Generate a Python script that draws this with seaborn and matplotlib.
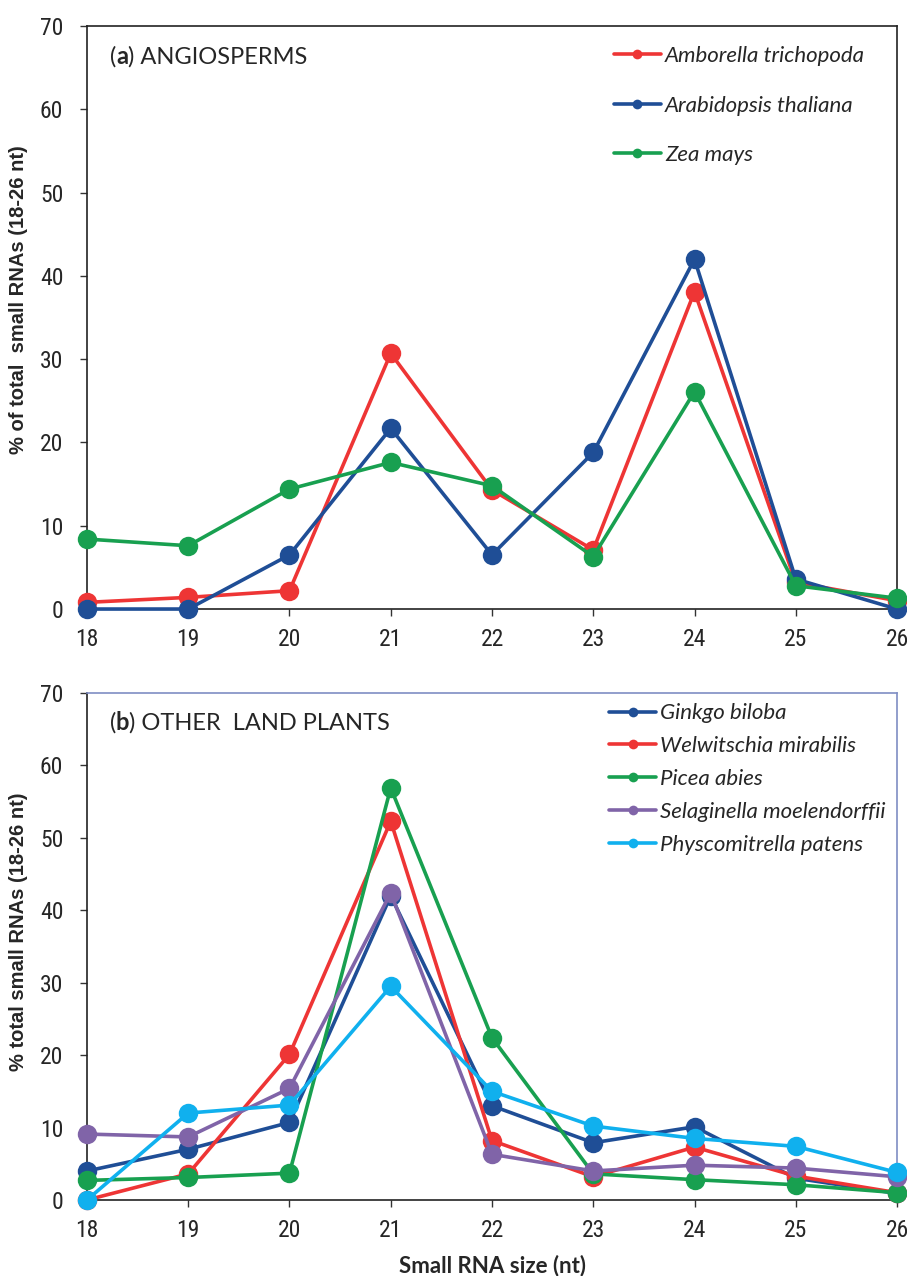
"""
Small RNA size distributions: angiosperms vs other land plants (two panels).
"""
import numpy as np
import pandas as pd
import matplotlib
matplotlib.use('Agg')
import matplotlib.pyplot as plt
from matplotlib import font_manager
import seaborn as sns

sns.set_style('white')
plt.rcParams['font.family'] = ['Lato', 'DejaVu Sans']

# narrow face for the tick numbers if it exists (closer to the original look)
NARROW_OK = False
for cand in ['Liberation Sans Narrow', 'DejaVu Sans Condensed', 'Roboto Condensed']:
    try:
        path = font_manager.findfont(cand, fallback_to_default=False)
        NARROW_OK = True
        TICK_FAMILY = font_manager.FontProperties(fname=path).get_name()
        break
    except Exception:
        continue
if NARROW_OK:
    TICK_SIZE, AX_RIGHT = 17, 0.989
else:
    TICK_FAMILY, TICK_SIZE, AX_RIGHT = 'Lato', 15.5, 0.984

# ── data ─────────────────────────────────────────────────────────────────────
SIZES = [18, 19, 20, 21, 22, 23, 24, 25, 26]
Y_TICKS = [0, 10, 20, 30, 40, 50, 60, 70]

ANGIO_SPECIES = ["Amborella trichopoda", "Arabidopsis thaliana", "Zea mays"]
amborella   = [0.8, 1.4, 2.2, 30.7, 14.3, 7.1, 38.1, 3.2, 1.0]
arabidopsis = [0.0, 0.0, 6.5, 21.7, 6.5, 18.8, 42.0, 3.6, 0.0]
zea         = [8.4, 7.6, 14.4, 17.6, 14.8, 6.3, 26.1, 2.8, 1.3]
ANGIO_COLORS = ['#EE3535', '#1F4E96', '#18A050']

OTHER_SPECIES = ["Ginkgo biloba", "Welwitschia mirabilis", "Picea abies",
                 "Selaginella moelendorffii", "Physcomitrella patens"]
ginkgo      = [4.0, 7.0, 10.7, 42.0, 13.0, 7.9, 10.1, 3.0, 0.9]
welwitschia = [0.0, 3.6, 20.1, 52.3, 8.2, 3.2, 7.3, 3.3, 1.0]
picea       = [2.7, 3.1, 3.7, 56.9, 22.4, 3.6, 2.8, 2.1, 1.0]
selaginella = [9.1, 8.7, 15.4, 42.4, 6.3, 4.0, 4.8, 4.4, 3.2]
physco      = [0.0, 12.0, 13.1, 29.5, 15.0, 10.2, 8.5, 7.4, 3.8]
OTHER_COLORS = ['#1F4E96', '#EE3535', '#18A050', '#8064A8', '#10B0EE']


def to_long(species, series):
    rows = []
    for name, vals in zip(species, series):
        for s, v in zip(SIZES, vals):
            rows.append({'size': s, 'pct': v, 'species': name})
    return pd.DataFrame(rows)


angio_df = to_long(ANGIO_SPECIES, [amborella, arabidopsis, zea])
other_df = to_long(OTHER_SPECIES, [ginkgo, welwitschia, picea, selaginella, physco])

# ── figure ───────────────────────────────────────────────────────────────────
fig = plt.figure(figsize=(9.07, 12.76), dpi=100)
ax_a = fig.add_axes([0.0959, 0.5227, AX_RIGHT - 0.0959, 0.4569])
ax_b = fig.add_axes([0.0959, 0.0596, AX_RIGHT - 0.0959, 0.3973])


def draw_panel(ax, df, species, colors, ylabel, tag, title, title_y,
               legend_spacing, legend_xy):
    sns.lineplot(data=df, x='size', y='pct', hue='species', hue_order=species,
                 palette=colors, marker='o', markersize=14, markeredgewidth=0,
                 linewidth=2.6, ax=ax, legend=True)
    ax.set_xlim(18, 26)
    ax.set_ylim(0, 70)
    ax.set_xticks(SIZES)
    ax.set_xticklabels([str(s) for s in SIZES], fontfamily=TICK_FAMILY,
                       fontsize=TICK_SIZE)
    ax.set_yticks(Y_TICKS)
    ax.set_yticklabels([str(v) for v in Y_TICKS], fontfamily=TICK_FAMILY,
                       fontsize=TICK_SIZE)
    ax.tick_params(axis='both', direction='out', length=5,
                   width=1, color='#333333', left=True, bottom=True)
    ax.tick_params(axis='y', pad=12)
    ax.tick_params(axis='x', pad=9)
    for sp in ax.spines.values():
        sp.set_linewidth(1.2)
        sp.set_color('#222222')
    for line in ax.lines:
        line.set_clip_on(False)
        line.set_zorder(3)
    ax.set_ylabel(ylabel, fontsize=14.5, fontweight='bold',
                  family=['Liberation Sans', 'DejaVu Sans'])
    ax.yaxis.set_label_coords(-0.073, 0.53)
    ax.set_xlabel('')

    # panel title with bold letter
    t1 = ax.text(0.028, title_y, '(', transform=ax.transAxes, fontsize=17,
                 va='center')
    t2 = ax.annotate(tag, xy=(1, 0), xycoords=t1, fontsize=17,
                     fontweight='bold', va='bottom')
    ax.annotate(') ' + title, xy=(1, 0), xycoords=t2, fontsize=17, va='bottom')

    handles, labels = ax.get_legend_handles_labels()
    ax.legend(handles, labels, loc='upper left', bbox_to_anchor=legend_xy,
              frameon=False, prop={'style': 'italic', 'size': 16},
              handlelength=2.1, handletextpad=0.2, labelspacing=legend_spacing,
              markerscale=0.5)


draw_panel(ax_a, angio_df, ANGIO_SPECIES, ANGIO_COLORS,
           '% of total  small RNAs (18-26 nt)', 'a', 'ANGIOSPERMS', 0.947,
           1.33, (0.626, 1.0))
draw_panel(ax_b, other_df, OTHER_SPECIES, OTHER_COLORS,
           '% total small RNAs (18-26 nt)', 'b', 'OTHER  LAND PLANTS', 0.941,
           0.58, (0.62, 1.019))

ax_b.spines['top'].set_color('#7F8EC4')
ax_b.spines['right'].set_color('#7F8EC4')
ax_b.set_xlabel('Small RNA size (nt)', fontsize=16, fontweight='bold')
ax_b.xaxis.set_label_coords(0.5, -0.107)

fig.savefig('out.png', dpi=100)
